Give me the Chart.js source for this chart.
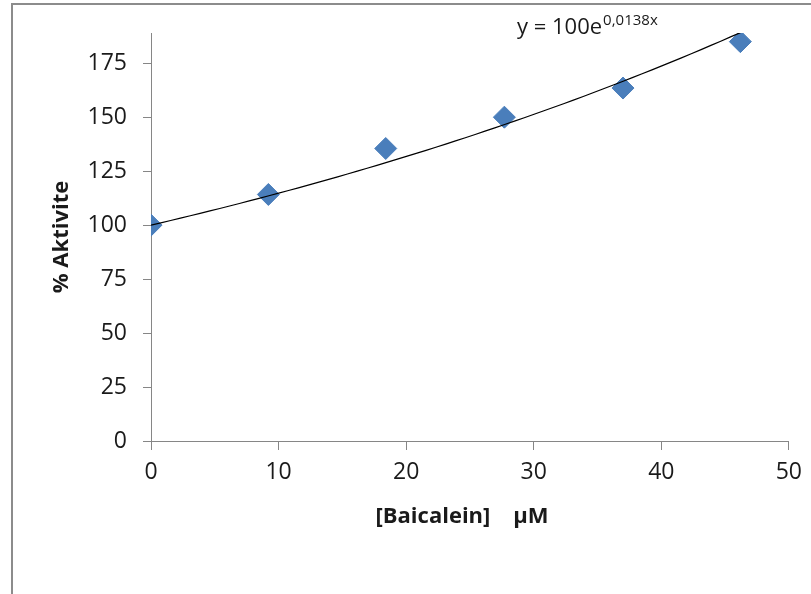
<!DOCTYPE html>
<html>
<head>
<meta charset="utf-8">
<script src="https://cdn.jsdelivr.net/npm/chart.js@4/dist/chart.umd.min.js"></script>
<style>
  html, body { margin: 0; padding: 0; background: #fff; }
  #wrap { width: 811px; height: 594px; position: relative; }
</style>
</head>
<body>
<div id="wrap"><canvas id="c" width="811" height="594"></canvas></div>
<script>
// Measured activity vs. baicalein concentration
const concentrations = [0, 9.2, 18.4, 27.7, 37.0, 46.2];
const activity = [100, 114.2, 135.5, 150, 163.5, 185];

// Axis ticks
const xTicks = [0, 10, 20, 30, 40, 50];
const yTicks = [0, 25, 50, 75, 100, 125, 150, 175];

// Exponential trendline y = a * e^(b x)
const fitA = 100;
const fitB = 0.0138;
const fitLabel = 'y = 100e';
const fitExponent = '0,0138x';

const xTitle = '[Baicalein]    µM';
const yTitle = '% Aktivite';

const AXIS = '#868686';
const TEXT = '#1a1a1a';
const FONT = "'Open Sans', 'Liberation Sans', sans-serif";

// Trendline sampled across the measured range
const fitX0 = concentrations[0];
const fitX1 = concentrations[concentrations.length - 1];
const fitPoints = [];
for (let i = 0; i <= 60; i++) {
  const x = fitX0 + (fitX1 - fitX0) * i / 60;
  fitPoints.push({ x: x, y: fitA * Math.exp(fitB * x) });
}

const measured = concentrations.map((x, i) => ({ x: x, y: activity[i] }));

// Outer frame, trendline equation and x-axis title
const extras = {
  id: 'extras',
  afterDraw(chart) {
    const ctx = chart.ctx;
    ctx.save();
    ctx.strokeStyle = '#8c8c8c';
    ctx.lineWidth = 2;
    ctx.beginPath();
    ctx.moveTo(12, 594);
    ctx.lineTo(12, 4);
    ctx.lineTo(811, 4);
    ctx.stroke();

    ctx.fillStyle = TEXT;
    ctx.textBaseline = 'alphabetic';
    ctx.textAlign = 'left';
    ctx.font = '22px ' + FONT;
    ctx.fillText(fitLabel, 517, 34);
    const w = ctx.measureText(fitLabel).width;
    ctx.font = '15px ' + FONT;
    ctx.fillText(fitExponent, 517 + w + 1, 25);

    ctx.font = 'bold 22px ' + FONT;
    ctx.textAlign = 'center';
    ctx.textBaseline = 'middle';
    ctx.fillText(xTitle, 462, 517);
    ctx.restore();
  }
};

new Chart(document.getElementById('c'), {
  type: 'scatter',
  data: {
    datasets: [
      {
        type: 'line',
        data: fitPoints,
        borderColor: '#000',
        borderWidth: 1.2,
        pointRadius: 0,
        tension: 0,
        fill: false,
        order: 0
      },
      {
        data: measured,
        pointStyle: 'rectRot',
        pointRadius: 11,
        backgroundColor: '#4A7EBB',
        borderColor: '#4A7EBB',
        borderWidth: 1,
        order: 1
      }
    ]
  },
  options: {
    responsive: false,
    devicePixelRatio: 1,
    animation: false,
    layout: { padding: { left: 0, right: 19, top: 33, bottom: 0 } },
    plugins: { legend: { display: false }, tooltip: { enabled: false } },
    scales: {
      x: {
        type: 'linear',
        min: 0,
        max: 50,
        afterBuildTicks: s => { s.ticks = xTicks.map(v => ({ value: v })); },
        afterFit: s => { s.height = 153; },
        grid: { drawOnChartArea: false, drawTicks: true, tickLength: 9, color: AXIS, lineWidth: 1 },
        border: { color: AXIS, width: 1 },
        ticks: { color: TEXT, font: { family: FONT, size: 23 }, padding: 9, maxRotation: 0 }
      },
      y: {
        type: 'linear',
        min: 0,
        max: 189,
        afterBuildTicks: s => { s.ticks = yTicks.map(v => ({ value: v })); },
        afterFit: s => { s.width = 151; },
        grid: { drawOnChartArea: false, drawTicks: true, tickLength: 8, color: AXIS, lineWidth: 1 },
        border: { color: AXIS, width: 1 },
        ticks: { color: TEXT, font: { family: FONT, size: 23 }, padding: 16 },
        title: {
          display: true,
          text: yTitle,
          color: TEXT,
          font: { family: FONT, size: 22, weight: 'bold' },
          padding: { top: 49, bottom: 0 }
        }
      }
    }
  },
  plugins: [extras]
});
</script>
</body>
</html>
